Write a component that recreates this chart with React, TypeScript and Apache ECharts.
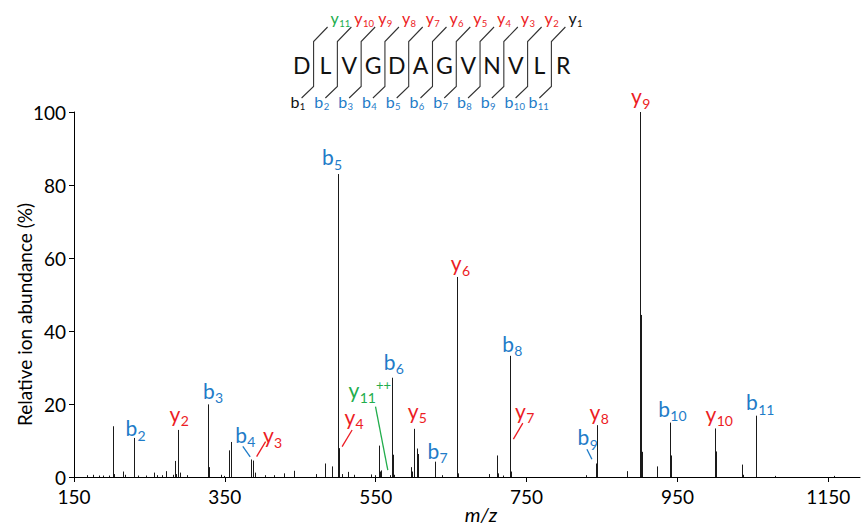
import React, { useEffect, useRef } from 'react';
import * as echarts from 'echarts';

// ---------------- data ----------------
const sequence = ['D', 'L', 'V', 'G', 'D', 'A', 'G', 'V', 'N', 'V', 'L', 'R'];

// unlabeled peaks (m/z, relative abundance %)
const peakMz = [
  166.6, 175.1, 183.3, 188.6, 196.5, 201.5, 203.2, 215.6, 217.8, 235.0, 245.6, 255.4, 260.2, 266.4, 272.1,
  281.0, 283.3, 285.0, 290.3, 300.0, 329.2, 344.3, 348.3, 354.9, 357.5, 358.5, 389.8, 403.0, 415.3, 428.6,
  441.1, 470.6, 482.2, 492.3, 504.7, 512.7, 521.4, 543.6, 548.9, 553.8, 555.5, 569.2, 572.3, 574.1, 596.6,
  598.3, 601.4, 604.6, 606.3, 638.1, 658.4, 659.4, 699.7, 710.3, 711.6, 718.2, 728.0, 729.4, 828.7, 882.7,
  883.7, 901.5, 902.5, 922.4, 923.4, 941.5, 1000.6, 1036.0, 1037.0, 1054.6, 1079.3, 1158.0,
];
const peakAbundance = [
  0.5, 0.6, 0.4, 0.4, 0.4, 13.9, 0.8, 1.5, 0.6, 0.4, 0.4, 1.2, 0.5, 0.5, 1.6,
  0.6, 4.4, 0.8, 1.2, 0.5, 2.7, 0.6, 0.3, 7.3, 9.6, 4.1, 1.2, 0.5, 0.5, 1.0,
  1.7, 0.8, 3.7, 2.9, 0.8, 1.4, 0.6, 0.7, 0.5, 8.6, 1.5, 0.5, 6.1, 0.6, 2.7,
  1.5, 3.0, 7.8, 6.3, 0.5, 16.7, 1.0, 0.8, 5.9, 1.0, 0.4, 28.2, 1.5, 0.5, 1.6,
  0.8, 44.4, 6.9, 2.9, 1.2, 5.9, 7.0, 3.4, 0.6, 1.5, 0.3, 0.3,
];

// annotated fragment ions
const ionNames = ['b2', 'y2', 'b3', 'b4', 'y3', 'b5', 'y4', 'y11++', 'b6', 'y5', 'b7', 'y6', 'b8', 'y7', 'b9', 'y8', 'y9', 'b10', 'y10', 'b11'];
const ionMz = [229.12, 288.2, 328.19, 385.21, 387.27, 500.24, 501.31, 556.82, 571.27, 600.38, 628.29, 657.4, 727.36, 728.44, 841.4, 843.47, 900.49, 940.47, 999.56, 1053.56];
const ionAbundance = [10.7, 12.9, 19.9, 4.8, 4.5, 83.0, 7.9, 1.8, 27.2, 13.2, 4.2, 54.8, 33.2, 9.7, 3.7, 14.2, 100, 14.9, 13.3, 16.8];

const xTickValues = [150, 350, 550, 750, 950, 1150];

// ---------------- styles ----------------
const FAMILY = 'Lato';
const BLUE = '#1f7cc8';
const RED = '#ec1c24';
const GREEN = '#22ad4c';
const K = 0.387; // central-baseline offset (em) for Lato

// label placement relative to peak top (px): main glyph left, baseline, optional leader
const labelLayout: Record<string, { lx: number; ly: number; line?: number[] }> = {
  b2: { lx: -9, ly: -2 },
  y2: { lx: -9, ly: -8 },
  b3: { lx: -5.5, ly: -5.5 },
  b4: { lx: -16.3, ly: -16.8, line: [-8.7, -13.1, -1.3, -2.5] },
  y3: { lx: 9.4, ly: -17.6, line: [12.1, -18.9, 3.1, -3.9] },
  b5: { lx: -16.6, ly: -9 },
  y4: { lx: 4.9, ly: -24, line: [12.6, -18.2, 2.6, -1.5] },
  'y11++': { lx: -33, ly: -72.4, line: [-6, -63.7, 6.3, -0.4] },
  b6: { lx: -8.8, ly: -8.5 },
  y5: { lx: -6.8, ly: -10 },
  b7: { lx: -8, ly: -3.4 },
  y6: { lx: -6.7, ly: -6 },
  b8: { lx: -8.3, ly: -4 },
  y7: { lx: 4.6, ly: -22.7, line: [12.3, -18.4, 2.9, -2.4] },
  b9: { lx: -18.9, ly: -18.5, line: [-9.6, -14.2, -4.6, -4.2] },
  y8: { lx: -8, ly: -6 },
  y9: { lx: -9.4, ly: -8 },
  b10: { lx: -12.3, ly: -5.7 },
  y10: { lx: -10, ly: -7 },
  b11: { lx: -10.4, ly: -5.7 },
};

function ionColor(name: string) {
  if (name === 'b1' || name === 'y1') return '#111';
  if (name.startsWith('y11')) return GREEN;
  return name[0] === 'b' ? BLUE : RED;
}

let measureCtx: CanvasRenderingContext2D | null = null;
function textWidth(t: string, font: string) {
  if (!measureCtx) measureCtx = document.createElement('canvas').getContext('2d');
  measureCtx!.font = font;
  return measureCtx!.measureText(t).width;
}

function txt(text: string, x: number, baseline: number, fs: number, color: string) {
  const font = `${fs}px ${FAMILY}`;
  return {
    type: 'text',
    x,
    y: baseline - K * fs,
    silent: true,
    style: {
      text,
      font,
      fill: color,
      textAlign: 'left',
      align: 'left',
      textVerticalAlign: 'middle',
      verticalAlign: 'middle',
    },
  };
}

function ionText(name: string, left: number, base: number, fm: number, fs: number, drop: number) {
  const color = ionColor(name);
  const letter = name[0];
  const rest = name.slice(1);
  const num = rest.replace(/\+/g, '');
  const plus = rest.slice(num.length);
  const w1 = textWidth(letter, `${fm}px ${FAMILY}`);
  const els: any[] = [txt(letter, left, base, fm, color), txt(num, left + w1 + 0.3, base + drop, fs, color)];
  if (plus) {
    const w2 = textWidth(num, `${fs}px ${FAMILY}`);
    els.push(txt(plus, left + w1 + w2 + 0.5, base - 8, 13, color));
  }
  return els;
}

// ---------------- peptide diagram ----------------
function buildDiagram() {
  const els: any[] = [];
  const x0 = 301.7;
  const step = 23.78;
  sequence.forEach((aa, i) => {
    els.push({
      type: 'text',
      x: x0 + step * i,
      y: 65,
      silent: true,
      style: { text: aa, font: `23px ${FAMILY}`, fill: '#111', textAlign: 'center', align: 'center', textVerticalAlign: 'middle', verticalAlign: 'middle' },
    });
  });
  const n = sequence.length;
  for (let i = 0; i < n - 1; i++) {
    const g = x0 + step * (i + 0.5);
    els.push({
      type: 'polyline',
      silent: true,
      shape: { points: [[g + 14, 27], [g, 41.5], [g, 86.5], [g - 12, 98]] },
      style: { stroke: '#333', lineWidth: 1.1, fill: null },
    });
    const yName = 'y' + (n - 1 - i);
    const bName = 'b' + (i + 1);
    ionText(yName, g + 17, 24, 16, 9.5, 3).forEach((e) => els.push(e));
    ionText(bName, g - 23, 108, 16, 9.5, 2.5).forEach((e) => els.push(e));
  }
  return els;
}

export default function App() {
  const ref = useRef<HTMLDivElement>(null);
  useEffect(() => {
    const chart = echarts.init(ref.current!, null, { renderer: 'svg' });
    const spectrum = [
      ...peakMz.map((m, i) => [m, peakAbundance[i]]),
      ...ionMz.map((m, i) => [m, ionAbundance[i]]),
    ];
    const ionData = ionMz.map((m, i) => [m, ionAbundance[i], i]);
    const option: any = {
      animation: false,
      textStyle: { fontFamily: FAMILY },
      grid: { left: 74, right: 1, top: 112, bottom: 53, containLabel: false, outerBoundsMode: 'none' },
      xAxis: {
        type: 'value',
        min: 150,
        max: 1192,
        splitLine: { show: false },
        axisLine: { show: true, onZero: false, lineStyle: { color: '#000', width: 1 } },
        axisTick: { show: true, length: 5, inside: false, customValues: xTickValues, lineStyle: { color: '#000' } },
        axisLabel: {
          customValues: xTickValues,
          fontSize: 19,
          lineHeight: 19,
          color: '#000',
          margin: 10,
          fontFamily: FAMILY,
          formatter: (v: number) => String(v),
        },
        name: 'm/z',
        nameLocation: 'middle',
        nameGap: 27,
        nameMoveOverlap: false,
        nameTextStyle: { fontSize: 20, lineHeight: 20, fontStyle: 'italic', color: '#000', fontFamily: FAMILY, padding: [0, 0, 0, 28] },
      },
      yAxis: {
        type: 'value',
        min: 0,
        max: 100,
        interval: 20,
        splitLine: { show: false },
        axisLine: { show: true, lineStyle: { color: '#000', width: 1 } },
        axisTick: { show: true, length: 5, inside: false, lineStyle: { color: '#000' } },
        axisLabel: { fontSize: 19, lineHeight: 18, color: '#000', margin: 8, fontFamily: FAMILY },
        name: 'Relative ion abundance (%)',
        nameLocation: 'middle',
        nameGap: 40,
        nameRotate: 90,
        nameMoveOverlap: false,
        nameTextStyle: { fontSize: 19, color: '#000', fontFamily: FAMILY, padding: [0, 40, 0, 0] },
      },
      graphic: { elements: buildDiagram() },
      series: [
        {
          type: 'custom',
          name: 'spectrum',
          data: spectrum,
          encode: { x: 0, y: 1 },
          clip: true,
          silent: true,
          renderItem: (params: any, api: any) => {
            const top = api.coord([api.value(0), api.value(1)]);
            const base = api.coord([api.value(0), 0]);
            const x = Math.round(top[0]) + 0.5;
            return {
              type: 'line',
              shape: { x1: x, y1: top[1], x2: x, y2: base[1] },
              style: { stroke: '#1a1a1a', lineWidth: 1 },
            };
          },
        },
        {
          type: 'custom',
          name: 'labels',
          data: ionData,
          encode: { x: 0, y: 1 },
          clip: false,
          silent: true,
          renderItem: (params: any, api: any) => {
            const idx = api.value(2);
            const name = ionNames[idx];
            const p = api.coord([api.value(0), api.value(1)]);
            const o = labelLayout[name];
            const px = Math.round(p[0]) + 0.5;
            const children: any[] = ionText(name, px + o.lx, p[1] + o.ly, 21, 14, 4.5);
            if (o.line) {
              children.push({
                type: 'line',
                silent: true,
                shape: { x1: px + o.line[0], y1: p[1] + o.line[1], x2: px + o.line[2], y2: p[1] + o.line[3] },
                style: { stroke: ionColor(name), lineWidth: 1.3 },
              });
            }
            return { type: 'group', children };
          },
        },
      ],
    };
    chart.setOption(option);
    return () => chart.dispose();
  }, []);
  return <div ref={ref} style={{ position: 'absolute', left: 0, top: 0, width: 861, height: 530 }} />;
}
